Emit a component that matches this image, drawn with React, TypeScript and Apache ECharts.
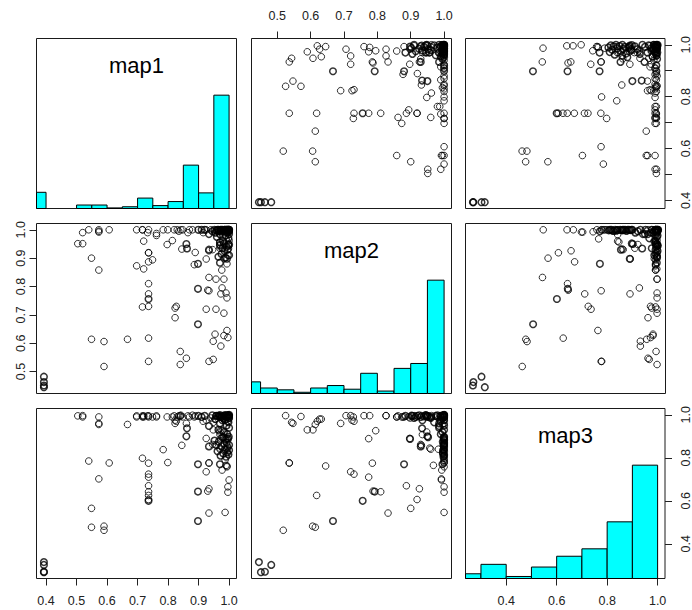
import React, { useEffect, useRef } from "react";
import * as echarts from "echarts";

type Obs = [number, number, number, number]; // [map1, map2, map3, frequency]

const varNames = ["map1", "map2", "map3"];

const cornerObs: Obs[] = [
  [0.393, 0.445, 0.315, 19],
  [0.393, 0.451, 0.268, 4],
  [0.393, 0.463, 0.27, 3],
  [0.393, 0.482, 0.302, 2],
];

const lowObs: Obs[] = [
  [0.504, 0.951, 0.995, 1],
  [0.52, 0.951, 0.996, 1],
  [0.52, 0.99, 0.99, 1],
  [0.549, 0.9, 0.565, 1],
  [0.549, 0.614, 0.477, 1],
  [0.54, 1.0, 0.785, 1],
  [0.573, 0.858, 0.99, 1],
  [0.573, 1.0, 0.96, 1],
  [0.573, 0.995, 0.955, 1],
  [0.573, 0.992, 0.702, 1],
  [0.59, 0.518, 0.463, 1],
  [0.59, 0.606, 0.482, 1],
  [0.607, 1.0, 0.776, 1],
  [0.667, 0.614, 0.955, 1],
  [0.697, 0.873, 0.99, 1],
  [0.697, 1.0, 0.995, 1],
  [0.716, 1.0, 0.798, 1],
  [0.72, 0.862, 0.995, 1],
  [0.72, 0.96, 0.99, 1],
  [0.716, 1.0, 0.995, 1],
  [0.716, 0.728, 0.99, 1],
  [0.736, 0.536, 0.775, 1],
  [0.736, 0.618, 0.625, 1],
  [0.736, 0.73, 0.724, 1],
  [0.736, 0.756, 0.6, 2],
  [0.736, 0.774, 0.71, 1],
  [0.736, 0.81, 0.642, 1],
  [0.736, 0.887, 0.67, 1],
  [0.736, 0.919, 0.606, 1],
  [0.736, 0.919, 0.995, 1],
  [0.749, 0.894, 0.99, 1],
  [0.733, 0.99, 0.995, 1],
  [0.736, 1.0, 0.99, 1],
];

const midObs: Obs[] = [
  [0.762, 0.987, 0.995, 1],
  [0.762, 0.98, 0.99, 1],
  [0.784, 1.0, 0.838, 1],
  [0.797, 0.948, 0.99, 1],
  [0.799, 1.0, 0.778, 1],
  [0.814, 0.962, 0.99, 1],
  [0.823, 0.724, 0.975, 1],
  [0.827, 0.73, 0.97, 1],
  [0.823, 0.69, 0.96, 1],
  [0.84, 0.571, 0.992, 1],
  [0.84, 0.525, 0.996, 1],
  [0.845, 0.932, 0.858, 1],
  [0.82, 1.0, 0.995, 1],
  [0.83, 1.0, 0.99, 1],
  [0.842, 1.0, 0.998, 1],
  [0.835, 0.995, 0.995, 1],
  [0.848, 1.0, 0.99, 1],
  [0.86, 0.547, 0.96, 1],
  [0.86, 0.95, 0.9, 3],
  [0.862, 0.934, 0.937, 2],
  [0.889, 0.92, 0.995, 1],
  [0.886, 0.877, 0.99, 1],
  [0.898, 0.88, 0.77, 26],
  [0.898, 0.792, 0.643, 24],
  [0.898, 0.667, 0.506, 12],
  [0.899, 1.0, 0.995, 2],
  [0.87, 1.0, 0.99, 1],
  [0.88, 1.0, 0.998, 1],
  [0.865, 0.99, 0.995, 1],
];

const highObs: Obs[] = [
  [0.934, 0.926, 0.656, 1],
  [0.934, 0.93, 0.853, 2],
  [0.934, 0.985, 0.948, 2],
  [0.934, 0.832, 0.543, 1],
  [0.934, 0.536, 0.777, 1],
  [0.93, 0.787, 0.645, 1],
  [0.925, 0.72, 0.735, 1],
  [0.948, 0.607, 0.93, 1],
  [0.948, 0.543, 0.965, 1],
  [0.925, 0.897, 0.89, 1],
  [0.946, 0.93, 0.862, 1],
  [0.934, 0.785, 0.775, 1],
  [0.91, 1.0, 0.99, 3],
  [0.92, 1.0, 0.995, 3],
  [0.94, 1.0, 0.985, 1],
  [0.945, 0.995, 0.998, 4],
  [0.915, 0.99, 0.97, 1],
  [0.925, 1.0, 0.975, 1],
];

const topObs: Obs[] = [
  [0.987, 1.0, 0.546, 1],
  [0.996, 1.0, 0.665, 1],
  [1.0, 0.992, 0.697, 1],
  [0.993, 1.0, 0.758, 1],
  [0.99, 0.968, 0.765, 1],
  [0.987, 1.0, 0.79, 1],
  [0.977, 0.993, 0.743, 1],
  [0.97, 0.995, 0.77, 2],
  [0.97, 0.957, 0.845, 1],
  [0.97, 0.983, 0.84, 1],
  [0.993, 0.96, 0.84, 1],
  [0.97, 0.948, 0.92, 1],
  [0.983, 0.952, 0.896, 2],
  [0.993, 0.898, 0.888, 2],
  [0.97, 0.935, 0.908, 1],
  [0.973, 0.59, 0.93, 1],
  [0.983, 0.706, 0.996, 1],
  [0.993, 0.645, 0.762, 1],
  [0.983, 0.627, 0.98, 1],
  [0.996, 0.62, 0.97, 1],
  [0.957, 0.72, 0.996, 1],
  [0.957, 0.826, 0.996, 1],
  [0.976, 0.858, 0.99, 1],
  [0.983, 0.898, 0.985, 1],
  [0.973, 0.774, 0.889, 1],
  [0.977, 0.795, 0.926, 1],
  [0.983, 0.826, 0.996, 1],
  [0.99, 0.777, 0.996, 1],
  [0.993, 0.76, 0.996, 1],
  [0.97, 0.955, 0.99, 2],
  [0.97, 0.884, 0.995, 2],
  [0.998, 0.933, 0.996, 1],
  [0.998, 0.95, 0.99, 1],
  [0.993, 0.88, 0.99, 1],
  [1.0, 0.962, 0.996, 1],
  [0.954, 0.632, 0.98, 1],
  [0.996, 1.0, 0.64, 1],
  [0.996, 0.91, 0.996, 1],
];

const clusterObs: Obs[] = [
  [0.952, 1.0, 0.88, 2],
  [0.958, 0.998, 0.86, 3],
  [0.962, 1.0, 0.83, 2],
  [0.966, 0.996, 0.875, 3],
  [0.972, 1.0, 0.81, 2],
  [0.975, 0.999, 0.855, 4],
  [0.978, 1.0, 0.895, 4],
  [0.981, 0.997, 0.82, 3],
  [0.984, 1.0, 0.865, 4],
  [0.986, 0.999, 0.84, 3],
  [0.988, 1.0, 0.885, 4],
  [0.99, 0.998, 0.805, 2],
  [0.992, 1.0, 0.87, 4],
  [0.994, 0.996, 0.825, 3],
  [0.995, 1.0, 0.85, 4],
  [0.997, 0.999, 0.89, 4],
  [0.998, 1.0, 0.815, 3],
  [1.0, 1.0, 0.86, 5],
  [1.0, 0.997, 0.835, 3],
  [0.999, 1.0, 0.898, 5],
  [0.965, 0.905, 0.995, 2],
  [0.975, 0.915, 0.99, 3],
  [0.985, 0.925, 0.998, 3],
  [0.992, 0.94, 0.992, 3],
  [0.998, 0.945, 0.997, 3],
  [1.0, 0.91, 0.985, 2],
  [0.978, 0.935, 0.975, 2],
  [0.988, 0.902, 0.996, 3],
  [0.995, 0.93, 0.99, 3],
  [0.97, 0.945, 0.999, 3],
  [1.0, 0.948, 0.995, 3],
  [0.955, 0.99, 0.98, 2],
  [0.96, 0.975, 0.995, 2],
  [0.965, 1.0, 0.93, 3],
  [0.97, 0.985, 0.96, 3],
  [0.975, 1.0, 0.99, 4],
  [0.98, 0.96, 0.985, 2],
  [0.983, 0.995, 0.92, 3],
  [0.986, 1.0, 0.975, 4],
  [0.989, 0.98, 0.998, 3],
  [0.992, 1.0, 0.95, 4],
  [0.994, 0.99, 0.91, 2],
  [0.996, 1.0, 0.999, 6],
  [0.998, 0.97, 0.965, 3],
  [1.0, 1.0, 1.0, 8],
  [1.0, 0.985, 0.94, 3],
  [0.999, 0.995, 0.985, 4],
];

// histogram break points (as R's hist would choose)
const histBreaks1 = [0.35, 0.4, 0.45, 0.5, 0.55, 0.6, 0.65, 0.7, 0.75, 0.8, 0.85, 0.9, 0.95, 1.0];
const histBreaks2 = [0.4, 0.45, 0.5, 0.55, 0.6, 0.65, 0.7, 0.75, 0.8, 0.85, 0.9, 0.95, 1.0];
const histBreaks3 = [0.2, 0.3, 0.4, 0.5, 0.6, 0.7, 0.8, 0.9, 1.0];

// axis ticks / labels
const map1Ticks = [0.4, 0.5, 0.6, 0.7, 0.8, 0.9, 1.0];
const map1SideLabels = [0.4, 0.6, 0.8, 1.0];
const map2Ticks = [0.5, 0.6, 0.7, 0.8, 0.9, 1.0];
const map3Ticks = [0.4, 0.6, 0.8, 1.0];

const allObs: Obs[] = [...cornerObs, ...lowObs, ...midObs, ...highObs, ...topObs, ...clusterObs];

const FONT = '"Liberation Sans", Arial, Helvetica, sans-serif';
const colLeft = [36.5, 251.5, 465.5];
const rowTop = [38.5, 223.5, 408.5];
const panelW = 200;
const panelH = 170;

function padRange(vals: number[]): [number, number] {
  const lo = Math.min(...vals);
  const hi = Math.max(...vals);
  const d = (hi - lo) * 0.04;
  return [lo - d, hi + d];
}

function histCounts(vals: number[], wts: number[], br: number[]) {
  const c = new Array(br.length - 1).fill(0);
  vals.forEach((v, i) => {
    for (let k = 0; k < br.length - 1; k++) {
      if (v <= br[k + 1] + 1e-9) {
        c[k] += wts[i];
        break;
      }
    }
  });
  return c;
}

export default function App() {
  const ref = useRef<HTMLDivElement>(null);

  useEffect(() => {
    if (!ref.current) return;
    const chart = echarts.init(ref.current, undefined, { renderer: "svg" });

    const vars = [0, 1, 2].map((k) => allObs.map((o) => o[k]));
    const wts = allObs.map((o) => o[3]);
    const ranges = vars.map(padRange);
    const breaks = [histBreaks1, histBreaks2, histBreaks3];
    const counts = breaks.map((b, k) => histCounts(vars[k], wts, b));

    const fmt = (v: number) => v.toFixed(1);
    const tickOn = (vals: number[]) => ({
      show: true,
      length: 7,
      inside: false,
      lineStyle: { color: "#222", width: 1 },
      customValues: vals,
    });
    const labelOn = (vals: number[], rotate = 0, margin = 16) => ({
      show: true,
      color: "#222",
      fontSize: 12.5,
      fontFamily: FONT,
      formatter: fmt,
      margin,
      rotate,
      customValues: vals,
    });
    const hidden = { axisTick: { show: false }, axisLabel: { show: false } };

    const grids: any[] = [];
    const xAxes: any[] = [];
    const yAxes: any[] = [];
    const series: any[] = [];

    for (let r = 0; r < 3; r++) {
      for (let c = 0; c < 3; c++) {
        const g = r * 3 + c;
        grids.push({
          left: colLeft[c],
          top: rowTop[r],
          width: panelW,
          height: panelH,
          show: true,
          borderColor: "#1a1a1a",
          borderWidth: 1,
          backgroundColor: "transparent",
        });
        let xExtra: any = hidden;
        let xPos = "bottom";
        if (g === 1) {
          xPos = "top";
          xExtra = { axisTick: tickOn(map2Ticks), axisLabel: labelOn(map2Ticks, 0, 16.5) };
        } else if (g === 6) {
          xExtra = { axisTick: tickOn(map1Ticks), axisLabel: labelOn(map1Ticks, 0, 16) };
        } else if (g === 8) {
          xExtra = { axisTick: tickOn(map3Ticks), axisLabel: labelOn(map3Ticks, 0, 16) };
        }
        xAxes.push({
          type: "value",
          gridIndex: g,
          position: xPos,
          min: ranges[c][0],
          max: ranges[c][1],
          axisLine: { show: false },
          splitLine: { show: false },
          ...xExtra,
        });

        if (r === c) {
          const maxC = Math.max(...counts[c]);
          yAxes.push({
            type: "value",
            gridIndex: g,
            position: "left",
            min: 0,
            max: maxC * 1.5,
            axisLine: { show: false },
            splitLine: { show: false },
            ...hidden,
          });
          const br = breaks[c];
          series.push({
            type: "custom",
            xAxisIndex: g,
            yAxisIndex: g,
            silent: true,
            clip: false,
            data: counts[c].map((n: number, k: number) => [br[k], br[k + 1], n]),
            renderItem: (params: any, api: any) => {
              const p0 = api.coord([api.value(0), 0]);
              const p1 = api.coord([api.value(1), api.value(2)]);
              const cs = params.coordSys;
              const x0 = Math.max(p0[0], cs.x);
              const x1 = Math.min(p1[0], cs.x + cs.width);
              if (x1 <= x0 || api.value(2) <= 0) return null;
              return {
                type: "rect",
                shape: { x: x0, y: p1[1], width: x1 - x0, height: p0[1] - p1[1] },
                style: { fill: "#00FFFF", stroke: "#000", lineWidth: 1 },
              };
            },
          });
        } else {
          let yExtra: any = hidden;
          let yPos = "left";
          if (g === 2) {
            yPos = "right";
            yExtra = { axisTick: tickOn(map1Ticks), axisLabel: labelOn(map1SideLabels, 90, 14) };
          } else if (g === 3) {
            yExtra = { axisTick: tickOn(map2Ticks), axisLabel: labelOn(map2Ticks, 90, 9) };
          }
          yAxes.push({
            type: "value",
            gridIndex: g,
            position: yPos,
            min: ranges[r][0],
            max: ranges[r][1],
            axisLine: { show: false },
            splitLine: { show: false },
            ...yExtra,
          });
          series.push({
            type: "scatter",
            xAxisIndex: g,
            yAxisIndex: g,
            silent: true,
            symbol: "circle",
            symbolSize: 6.6,
            itemStyle: { color: "rgba(0,0,0,0)", borderColor: "#000", borderWidth: 1 },
            data: allObs.map((o) => ({
              value: [o[c], o[r]],
              itemStyle: { borderWidth: o[3] > 1 ? 1.5 : 1 },
            })),
          });
        }
      }
    }
    // right-hand map3 scale on the bottom-right (histogram) panel
    yAxes.push({
      type: "value",
      gridIndex: 8,
      position: "right",
      min: ranges[2][0],
      max: ranges[2][1],
      axisLine: { show: false },
      splitLine: { show: false },
      axisTick: tickOn(map3Ticks),
      axisLabel: labelOn(map3Ticks, 90, 14),
    });

    const graphic = varNames.map((n, i) => ({
      type: "text",
      x: colLeft[i] + panelW / 2,
      y: rowTop[i] + 27,
      silent: true,
      style: {
        text: n,
        fontSize: 22,
        fontFamily: FONT,
        fill: "#000",
        align: "center",
        verticalAlign: "middle",
      },
    }));

    chart.setOption({
      animation: false,
      backgroundColor: "#fff",
      grid: grids,
      xAxis: xAxes,
      yAxis: yAxes,
      series,
      graphic,
    });

    return () => chart.dispose();
  }, []);

  return (
    <div
      ref={ref}
      style={{ position: "absolute", left: 0, top: 0, width: 692, height: 610 }}
    />
  );
}
